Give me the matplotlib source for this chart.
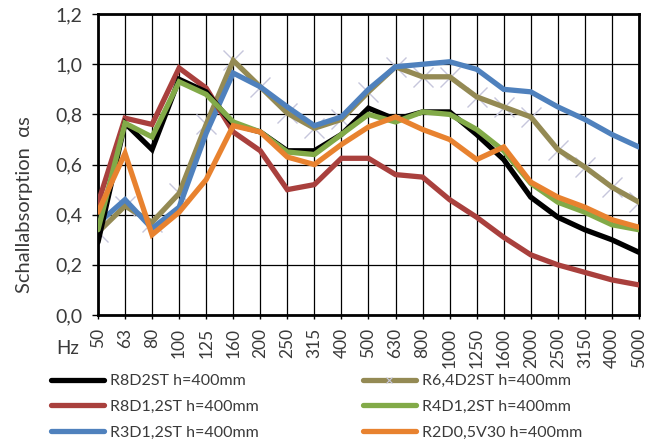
import matplotlib
matplotlib.use("Agg")
import matplotlib.pyplot as plt
from matplotlib.lines import Line2D

plt.rcParams['font.family'] = ['Lato', 'DejaVu Sans']

freqs = ["50", "63", "80", "100", "125", "160", "200", "250", "315", "400", "500",
         "630", "800", "1000", "1250", "1600", "2000", "2500", "3150", "4000", "5000"]

r8d2st = [0.29, 0.765, 0.66, 0.94, 0.89, 0.76, 0.73, 0.655, 0.655, 0.72, 0.825,
          0.78, 0.81, 0.81, 0.72, 0.62, 0.47, 0.39, 0.34, 0.30, 0.25]
r64d2st = [0.33, 0.435, 0.37, 0.485, 0.76, 1.015, 0.91, 0.805, 0.745, 0.78, 0.89,
           0.99, 0.95, 0.95, 0.87, 0.83, 0.79, 0.66, 0.59, 0.51, 0.45]
r8d12st = [0.445, 0.785, 0.76, 0.985, 0.905, 0.73, 0.655, 0.50, 0.52, 0.625, 0.625,
           0.56, 0.55, 0.46, 0.39, 0.31, 0.24, 0.20, 0.17, 0.14, 0.12]
r4d12st = [0.34, 0.765, 0.71, 0.93, 0.88, 0.77, 0.73, 0.65, 0.64, 0.72, 0.80,
           0.77, 0.81, 0.80, 0.74, 0.655, 0.525, 0.45, 0.41, 0.36, 0.34]
r3d12st = [0.365, 0.46, 0.345, 0.43, 0.725, 0.965, 0.91, 0.83, 0.755, 0.79, 0.90,
           0.99, 1.00, 1.01, 0.98, 0.90, 0.89, 0.83, 0.78, 0.72, 0.67]
r2d05v30 = [0.41, 0.645, 0.32, 0.41, 0.54, 0.755, 0.73, 0.63, 0.60, 0.68, 0.75,
            0.79, 0.74, 0.70, 0.62, 0.67, 0.53, 0.47, 0.43, 0.38, 0.35]

labels = ["R8D2ST h=400mm", "R6,4D2ST h=400mm", "R8D1,2ST h=400mm",
          "R4D1,2ST h=400mm", "R3D1,2ST h=400mm", "R2D0,5V30 h=400mm"]
colors = ["#000000", "#948A54", "#A9403D", "#82AA48", "#4F81BD", "#E8822F"]
yticks = [0.0, 0.2, 0.4, 0.6, 0.8, 1.0, 1.2]
ytick_labels = ["0,0", "0,2", "0,4", "0,6", "0,8", "1,0", "1,2"]

text_color = '#3a3a3a'
fig = plt.figure(figsize=(6.54, 4.41), dpi=100)
ax = fig.add_axes([0.1498, 0.2857, 0.977 - 0.1498, 0.968 - 0.2857])

x = list(range(len(freqs)))
lw = 3.8
# olive series cross markers (light, behind)
ax.plot(x, r64d2st, linestyle='none', marker='x', markersize=15, mew=1.0,
        color='#c6c6dc', zorder=2)
series_draw = [(r64d2st, colors[1]), (r3d12st, colors[4]), (r8d12st, colors[2]),
               (r8d2st, colors[0]), (r4d12st, colors[3]), (r2d05v30, colors[5])]
for vals, c in series_draw:
    ax.plot(x, vals, color=c, lw=lw, solid_capstyle='round',
            solid_joinstyle='miter', zorder=3)

ax.set_xlim(0, len(freqs) - 1)
ax.set_ylim(0, 1.2)
ax.set_xticks(x)
ax.set_xticklabels(freqs, rotation=90, fontsize=12.5)
ax.set_yticks(yticks)
ax.set_yticklabels(ytick_labels, fontsize=14)
ax.tick_params(axis='x', length=3, width=1, pad=6.5)
ax.tick_params(axis='y', length=4.5, width=1, pad=6.5)
ax.grid(True, color='black', lw=0.9)
ax.set_axisbelow(True)
for s in ax.spines.values():
    s.set_linewidth(2)
for t in ax.get_xticklabels() + ax.get_yticklabels():
    t.set_color(text_color)

fig.text(25 / 654, 0.535, "Schallabsorption  αs", fontsize=14.5, rotation=90,
         ha='center', va='center', color=text_color)
fig.text(68 / 654, (441 - 348) / 441, "Hz", fontsize=13.5, color=text_color,
         ha='center', va='center')

def make_handle(i):
    if i == 1:
        return Line2D([], [], color=colors[i], lw=lw, marker='x', markersize=5,
                      mec='#c6c6dc', mew=0.8, solid_capstyle='round')
    return Line2D([], [], color=colors[i], lw=lw, solid_capstyle='round')

columns = [([0, 2, 4], 51 / 654), ([1, 3, 5], 363 / 654)]
for idxs, xa in columns:
    leg = fig.legend([make_handle(i) for i in idxs], [labels[i] for i in idxs],
                     loc='upper left', bbox_to_anchor=(xa, (441 - 374) / 441),
                     frameon=False, fontsize=11.5, handlelength=3.3,
                     handletextpad=0.4, labelspacing=0.72, borderaxespad=0,
                     borderpad=0)
    for t in leg.get_texts():
        t.set_color(text_color)

fig.savefig("out.png", dpi=100)
